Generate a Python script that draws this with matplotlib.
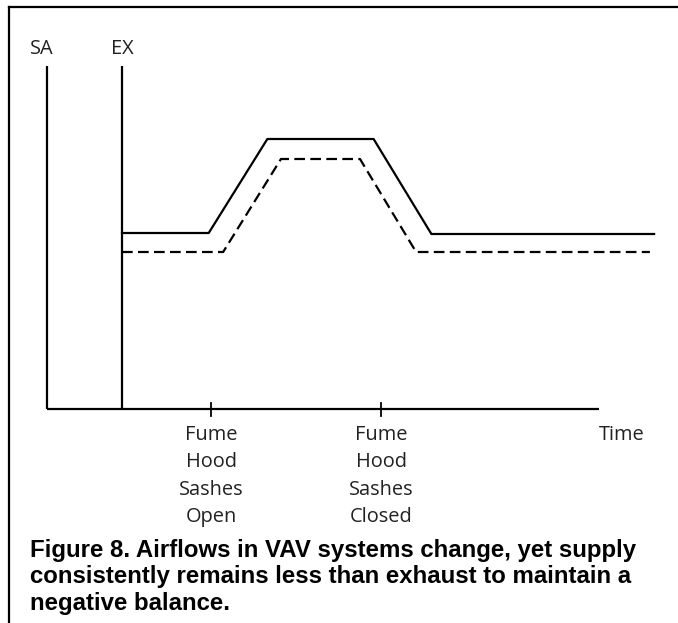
import matplotlib.pyplot as plt
from matplotlib.lines import Line2D

W, H = 678, 623

# time axis (arbitrary units, EX line at t = 0)
t_exhaust = [0.0, 10.2, 17.1, 29.6, 36.4, 62.6]
exhaust = [17.6, 17.6, 27.0, 27.0, 17.5, 17.5]
t_supply = [0.0, 11.9, 18.7, 28.0, 34.6, 62.1]
supply = [15.7, 15.7, 25.0, 25.0, 15.7, 15.7]

sa_pos = -8.8
ex_pos = 0.0
axis_end = 56.1
axis_top = 34.3
tick_pos = [10.5, 30.5]
tick_labels = [["Fume", "Hood", "Sashes", "Open"],
               ["Fume", "Hood", "Sashes", "Closed"]]
caption = ["Figure 8. Airflows in VAV systems change, yet supply",
           "consistently remains less than exhaust to maintain a",
           "negative balance."]

# pixel scale of the drawing
x0_px, y0_px = 122, 409
sx, sy = 8.5, 10.0

fig = plt.figure(figsize=(W / 100, H / 100), dpi=100)
ax = fig.add_axes([0, 0, 1, 1])
ax.set_xlim(-x0_px / sx, (W - x0_px) / sx)
ax.set_ylim((y0_px - H) / sy, y0_px / sy)
ax.axis("off")

lw = 1.6
ax.plot([sa_pos, sa_pos], [0, axis_top], color="black", lw=lw, solid_capstyle="butt")
ax.plot([ex_pos, ex_pos], [0, axis_top], color="black", lw=lw, solid_capstyle="butt")
ax.plot([sa_pos, axis_end], [0, 0], color="black", lw=lw, solid_capstyle="butt")
for tp in tick_pos:
    ax.plot([tp, tp], [-0.7, 0.6], color="black", lw=1.3)

ax.plot(t_exhaust, exhaust, color="black", lw=lw)
ax.plot(t_supply, supply, color="black", lw=lw, dashes=(4.8, 2.4))


def fx(px):
    return px / W


def fy(py):
    return 1 - py / H


label_font = "Open Sans"
label_size = 14.4
fig.text(fx(42), fy(54), "SA", ha="center", va="baseline", fontsize=label_size,
         family=label_font, color="#222222")
fig.text(fx(122), fy(54), "EX", ha="center", va="baseline", fontsize=label_size,
         family=label_font, color="#222222")
fig.text(fx(622), fy(440), "Time", ha="center", va="baseline", fontsize=label_size,
         family=label_font, color="#222222")

for tp, lines in zip(tick_pos, tick_labels):
    xpx = x0_px + tp * sx
    for i, s in enumerate(lines):
        fig.text(fx(xpx), fy(440 + i * 27.4), s, ha="center", va="baseline",
                 fontsize=label_size, family=label_font, color="#222222")

for i, s in enumerate(caption):
    fig.text(fx(30), fy(557 + i * 26.5), s, ha="left", va="baseline",
             fontsize=17.3, family="Liberation Sans", fontweight="bold")

# frame around the figure
fig.add_artist(Line2D([fx(9), 1], [fy(7), fy(7)], color="black", lw=1.6))
fig.add_artist(Line2D([fx(9), fx(9)], [fy(7), 0], color="black", lw=1.6))

fig.savefig("out.png", dpi=100)
